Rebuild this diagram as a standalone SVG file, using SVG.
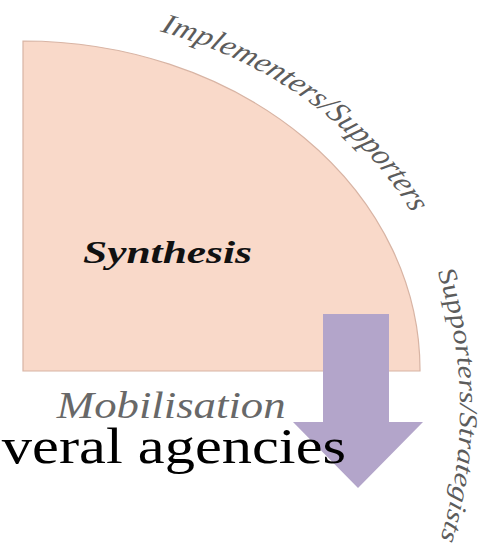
<svg xmlns="http://www.w3.org/2000/svg" width="490" height="547" viewBox="0 0 490 547">
  <style>
    text { font-family: 'Liberation Serif', 'Times New Roman', Times, serif; }
    .ring-label { font-style: italic; fill: #5c5c5c; }
    .wedge { fill: #f9d9c9; stroke: #d8b4a4; stroke-width: 1.2; }
    .flow { fill: #b3a5ca; }
  </style>
  <defs>
    <!-- upper guide circle (used inside the 1.21x widened frame) -->
    <path id="ringPath" d="M19 13 A358 358 0 0 1 293.2 601.1" fill="none"/>
    <!-- right-hand guide arc (used inside the 1.195x tall frame) -->
    <path id="sidePath" d="M422.1 194.3 A629 435 0 0 1 346.3 592.6" fill="none"/>
  </defs>

  <rect width="490" height="547" fill="#ffffff"/>

  <!-- quarter wedge -->
  <g id="synthesis">
    <path class="wedge" d="M23 41 A397 329 0 0 1 420 371 L23 371 Z"/>
    <text x="83" y="263" font-size="32" font-weight="bold" font-style="italic" fill="#111111" textLength="169" lengthAdjust="spacingAndGlyphs">Synthesis</text>
  </g>

  <!-- downward flow arrow -->
  <g id="connectors">
    <path class="flow" d="M323 314 L389 314 L389 422 L423 422 L358 488 L293 422 L323 422 Z"/>
  </g>

  <g id="implementers-supporters" transform="scale(1.21 1)">
    <text class="ring-label" font-size="28"><textPath href="#ringPath" startOffset="115">Implementers/Supporters</textPath></text>
  </g>

  <g id="supporters-strategists" transform="scale(1 1.195)">
    <text class="ring-label" font-size="25.7"><textPath href="#sidePath" startOffset="37">Supporters/Strategists</textPath></text>
  </g>

  <g transform="scale(1.21 1)">
    <g id="mobilisation">
      <text x="47" y="418" font-size="37" font-style="italic" fill="#686868">Mobilisation</text>
    </g>
    <g id="agencies">
      <text x="1.5" y="463" font-size="50" fill="#000000">veral agencies</text>
    </g>
  </g>
</svg>
